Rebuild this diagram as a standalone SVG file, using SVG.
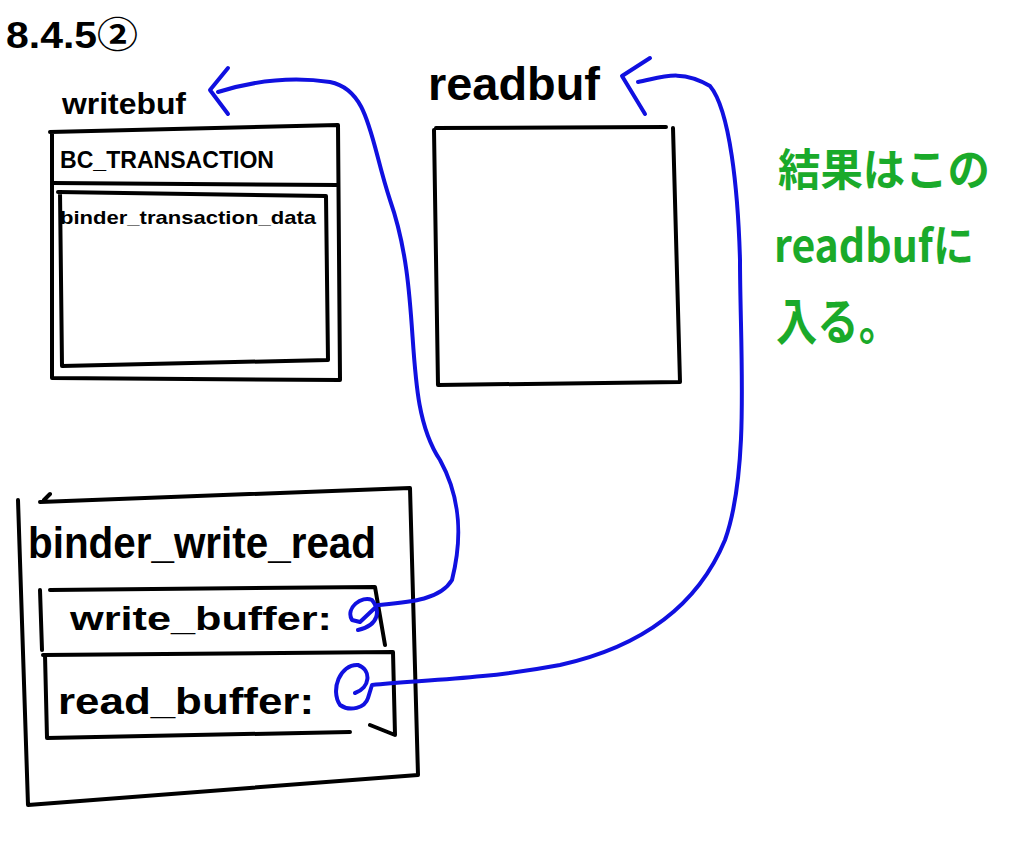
<svg xmlns="http://www.w3.org/2000/svg" width="1024" height="863" viewBox="0 0 1024 863">
<style>
.box{fill:none;stroke:#000;stroke-width:4;stroke-linecap:round;stroke-linejoin:round}
.t{font-family:"Liberation Sans","Noto Sans CJK JP",sans-serif;fill:#000;font-weight:bold}
.g{font-family:"Noto Sans CJK JP","Liberation Sans",sans-serif;fill:#1aaa2a;font-weight:bold}
.c{fill:none;stroke:#1010e0;stroke-width:4;stroke-linecap:round;stroke-linejoin:round}
</style>
<rect width="1024" height="863" fill="#fff"/>
<g id="title"><text class="t" x="6" y="48" font-size="36" textLength="132" lengthAdjust="spacingAndGlyphs">8.4.5②</text></g>
<g id="writebuf">
<text class="t" x="62" y="114" font-size="30" textLength="124" lengthAdjust="spacingAndGlyphs">writebuf</text>
<path class="box" d="M52 132 L52 378 L340 380 L338 125 L50 132"/>
<path class="box" d="M52 183 L338 185"/>
<path class="box" d="M58 192 L326 196 L328 360 L62 366 L60 192"/>
<text class="t" x="60" y="168" font-size="24" textLength="214" lengthAdjust="spacingAndGlyphs">BC_TRANSACTION</text>
<text class="t" x="60" y="224" font-size="19" textLength="256" lengthAdjust="spacingAndGlyphs">binder_transaction_data</text>
</g>
<g id="readbuf">
<text class="t" x="428" y="100" font-size="46" textLength="172" lengthAdjust="spacingAndGlyphs">readbuf</text>
<path class="box" d="M434 130 L438 385 L680 382 L673 128 M436 128 L666 127"/>
</g>
<g id="note"><text class="g" x="778" y="186" font-size="44" textLength="212" lengthAdjust="spacingAndGlyphs">結果はこの</text>
<text class="g" x="774" y="262" font-size="44" textLength="200" lengthAdjust="spacingAndGlyphs">readbufに</text>
<text class="g" x="776" y="340" font-size="50" textLength="124" lengthAdjust="spacingAndGlyphs">入る。</text></g>
<g id="binder_write_read">
<path class="box" d="M18 500 L28 805 L418 775 L410 488 L40 502 M44 500 L50 494"/>
<text class="t" x="28" y="558" font-size="44" textLength="348" lengthAdjust="spacingAndGlyphs">binder_write_read</text>
<g id="write_buffer">
<path class="box" d="M40 590 L42 650 M50 590 L375 587 L385 645"/>
<text class="t" x="70" y="630" font-size="34" textLength="262" lengthAdjust="spacingAndGlyphs">write_buffer:</text>
</g>
<g id="read_buffer">
<path class="box" d="M43 655 L393 652 L395 735 L370 725 M350 732 L47 738 L45 655"/>
<text class="t" x="58" y="714" font-size="36" textLength="256" lengthAdjust="spacingAndGlyphs">read_buffer:</text>
</g>
</g>
<g id="connectors">
<path class="c" d="M358 630 C 380 625 380 610 372 600 C 362 595 345 608 352 620 L360 622 L378 605 C 410 602 440 600 452 580 C 462 540 462 500 440 460 C 400 400 425 300 390 200 C 370 140 370 90 330 82 C 290 76 250 82 218 92"/>
<path class="c" d="M228 68 L210 90 L228 114"/>
<path class="c" d="M355 693 C 370 688 372 670 358 665 C 340 664 330 690 340 705 C 350 712 365 708 368 698 L372 685 C 420 680 480 680 560 665 C 650 645 700 600 725 540 C 750 470 740 350 740 260 C 738 190 730 110 710 86 C 680 68 660 78 638 82"/>
<path class="c" d="M650 58 L622 76 L645 114"/>
</g>
</svg>
